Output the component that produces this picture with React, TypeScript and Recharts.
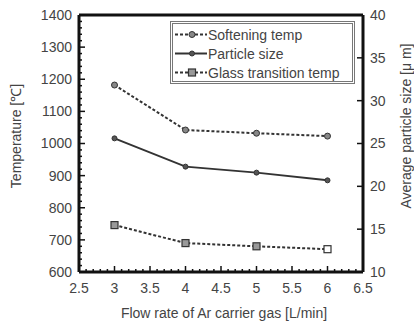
import { LineChart, Line, XAxis, YAxis, Legend, Label } from "recharts"

// Values
const flowRate = [3, 4, 5, 6]
const softeningTemp = [1182, 1042, 1032, 1023]
const particleSize = [25.6, 22.3, 21.6, 20.7]
const glassTransitionTemp = [746, 690, 680, 671]

const xTicks = [2.5, 3, 3.5, 4, 4.5, 5, 5.5, 6, 6.5]
const tempTicks = [600, 700, 800, 900, 1000, 1100, 1200, 1300, 1400]
const sizeTicks = [10, 15, 20, 25, 30, 35, 40]

const range = (a: number, b: number, step: number) => {
  const out: number[] = []
  for (let v = a; v <= b + 1e-9; v += step) out.push(Math.round(v * 1000) / 1000)
  return out
}
const xMinor = range(2.5, 6.5, 0.1)
const tempMinor = range(600, 1400, 20)

const data = flowRate.map((f, i) => ({
  flow: f,
  soft: softeningTemp[i],
  size: particleSize[i],
  glass: glassTransitionTemp[i],
}))

const FONT = "'Liberation Sans', Arial, sans-serif"
const TEXT = "#444"
const LINE = "#333"

function makeTick(side: string, majors: number[], margin: number) {
  return (props: any) => {
    const { x, y, payload } = props
    const v = payload.value
    const major = majors.some((m) => Math.abs(m - v) < 1e-6)
    const len = major ? 6 : 3
    if (side === "bottom") {
      const y0 = y - margin
      return (
        <g>
          <line x1={x} x2={x} y1={y0} y2={y0 - len} stroke="#111" strokeWidth={1.5} />
          {major && (
            <text x={x} y={y} dy="0.71em" textAnchor="middle" fontFamily={FONT} fontSize={14} fill={TEXT}>
              {v}
            </text>
          )}
        </g>
      )
    }
    const x0 = x + margin
    return (
      <g>
        <line x1={x0} x2={x0 + len} y1={y} y2={y} stroke="#111" strokeWidth={1.5} />
        {major && (
          <text x={x} y={y} dy="0.35em" textAnchor="end" fontFamily={FONT} fontSize={14} fill={TEXT}>
            {v}
          </text>
        )}
      </g>
    )
  }
}

function marker(kind: string, cx: number, cy: number, last = false) {
  if (kind === "circle") return <circle cx={cx} cy={cy} r={3} fill="#888" stroke={LINE} strokeWidth={1} />
  if (kind === "square")
    return (
      <rect x={cx - 3.5} y={cy - 3.5} width={7} height={7} fill={last ? "#fff" : "#999"} stroke={LINE} strokeWidth={1.2} />
    )
  return <circle cx={cx} cy={cy} r={2.5} fill="#555" stroke={LINE} strokeWidth={1} />
}

const series = [
  { key: "soft", name: "Softening temp", dash: "3 2", kind: "circle", axis: "temp" },
  { key: "size", name: "Particle size", dash: undefined, kind: "dot", axis: "size" },
  { key: "glass", name: "Glass transition temp", dash: "3 2", kind: "square", axis: "temp" },
]

const axisLine = { stroke: "#111", strokeWidth: 3 }

const titleStyle = {
  position: "absolute" as const,
  transform: "translate(-50%, -50%) rotate(-90deg)",
  whiteSpace: "nowrap" as const,
  fontFamily: FONT,
  fontSize: 14,
  lineHeight: "16px",
  color: TEXT,
}

function LegendBox() {
  return (
    <div
      style={{
        border: "3px double #777",
        background: "#fff",
        width: 179,
        height: 56,
        paddingTop: 1,
        fontFamily: FONT,
        fontSize: 14,
        color: TEXT,
      }}
    >
      {series.map((s) => (
        <div key={s.key} style={{ display: "flex", alignItems: "center", height: 19 }}>
          <svg width={35} height={19}>
            <line x1={2} x2={34} y1={9.5} y2={9.5} stroke={LINE} strokeWidth={2} strokeDasharray={s.dash} />
            {marker(s.kind, 19, 9.5)}
          </svg>
          <span style={{ whiteSpace: "nowrap" }}>{s.name}</span>
        </div>
      ))}
    </div>
  )
}

export default function App() {
  return (
    <div style={{ position: "absolute", left: 0, top: 0, width: 414, height: 325 }}>
      <LineChart width={414} height={325} data={data} margin={{ top: 14, right: 0, bottom: 0, left: 0 }}>
        <XAxis
          xAxisId="bottom"
          dataKey="flow"
          type="number"
          domain={[2.5, 6.5]}
          ticks={xMinor}
          interval={0}
          tickSize={0}
          tickMargin={11}
          tick={makeTick("bottom", xTicks, 11)}
          axisLine={axisLine}
          tickLine={false}
          height={53}
        >
          <Label
            content={({ viewBox }: any) => (
              <text
                x={viewBox.x + viewBox.width / 2 + 3}
                y={318}
                textAnchor="middle"
                fontFamily={FONT}
                fontSize={14}
                fill={TEXT}
              >
                Flow rate of Ar carrier gas [L/min]
              </text>
            )}
          />
        </XAxis>
        <XAxis
          xAxisId="top"
          dataKey="flow"
          orientation="top"
          type="number"
          domain={[2.5, 6.5]}
          allowDataOverflow
          axisLine={axisLine}
          tick={false}
          height={1}
        />
        <YAxis
          yAxisId="temp"
          type="number"
          domain={[600, 1400]}
          ticks={tempMinor}
          interval={0}
          tickSize={0}
          tickMargin={7}
          tick={makeTick("left", tempTicks, 7)}
          axisLine={axisLine}
          tickLine={false}
          width={79}
        />
        <YAxis
          yAxisId="size"
          orientation="right"
          type="number"
          domain={[10, 40]}
          ticks={sizeTicks}
          interval={0}
          tickSize={-6}
          tickMargin={13}
          tick={{ fontFamily: FONT, fontSize: 14, fill: TEXT }}
          tickLine={{ stroke: "#111", strokeWidth: 1.5 }}
          axisLine={axisLine}
          width={51}
        />
        <Legend
          layout="vertical"
          align="center"
          verticalAlign="middle"
          content={() => <LegendBox />}
          wrapperStyle={{ left: 170, top: 21, width: 185, height: 62 }}
        />
        {series.map((s) => (
          <Line
            key={s.key}
            xAxisId="bottom"
            yAxisId={s.axis}
            dataKey={s.key}
            name={s.name}
            stroke={LINE}
            strokeWidth={2}
            strokeDasharray={s.dash}
            isAnimationActive={false}
            dot={(p: any) => <g key={`${s.key}-${p.index}`}>{marker(s.kind, p.cx, p.cy, p.index === data.length - 1)}</g>}
            activeDot={false}
          />
        ))}
      </LineChart>
      <div style={{ ...titleStyle, left: 16, top: 136 }}>Temperature [℃]</div>
      <div style={{ ...titleStyle, left: 406, top: 126 }}>Average particle size [μ m]</div>
    </div>
  )
}
